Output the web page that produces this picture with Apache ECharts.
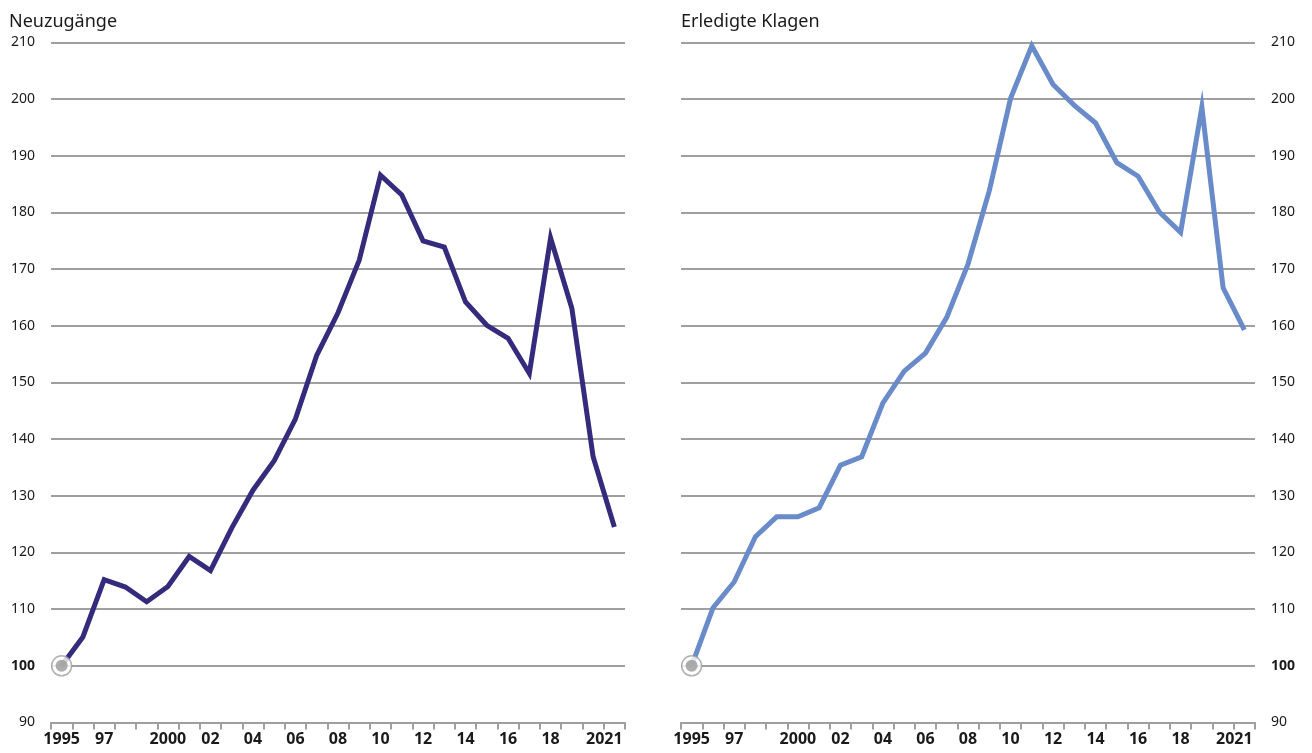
<!DOCTYPE html>
<html><head><meta charset="utf-8">
<script src="https://cdn.jsdelivr.net/npm/echarts@6/dist/echarts.min.js"></script>
<style>html,body{margin:0;padding:0;background:#fff}#c{width:1312px;height:753px}</style>
</head><body><div id="c"></div>
<script>
const years = [1995,1996,1997,1998,1999,2000,2001,2002,2003,2004,2005,2006,2007,2008,2009,2010,2011,2012,2013,2014,2015,2016,2017,2018,2019,2020,2021];
const neuzugaenge = [100,105.1,115.2,113.9,111.3,114.0,119.3,116.8,124.3,131.0,136.2,143.6,154.8,162.3,171.6,186.6,183.1,175.0,173.9,164.2,160.1,157.8,151.6,175.5,163.1,136.9,124.5];
const erledigteKlagen = [100,110.2,114.8,122.8,126.3,126.3,127.9,135.4,136.9,146.4,152.0,155.2,161.5,170.9,183.8,200.1,209.4,202.6,198.9,195.8,188.8,186.4,180.1,176.5,198.6,166.7,159.3];
const shownYears = [1995,1997,2000,2002,2004,2006,2008,2010,2012,2014,2016,2018,2021];
const fullYears = [1995,2000,2021];
const yMin = 90, yMax = 210, yStep = 10;
const titles = ['Neuzugänge','Erledigte Klagen'];
const colors = ['#342b7c','#6a8bc9'];

const gridCol = '#9f9f9f';
const font = 'Noto Sans';

function xAxis(gi){
  return {
    type:'category', gridIndex:gi, data:years.map(String), boundaryGap:true,
    axisLine:{show:true, lineStyle:{color:gridCol, width:2}},
    axisTick:{show:true, interval:0, length:7, lineStyle:{color:gridCol, width:2}},
    axisLabel:{
      interval:(i)=>shownYears.includes(years[i]),
      margin:9, color:'#1a1a1a', fontFamily:font, fontWeight:'bold', fontSize:16,
      formatter:(v)=>{const y=+v; const s = fullYears.includes(y)?String(y):String(y).slice(2);
        return y===years[years.length-1] ? '{last|'+s+'}' : s;},
      rich:{last:{padding:[0,20,0,0], fontFamily:font, fontWeight:'bold', fontSize:16, color:'#1a1a1a'}}
    },
    splitLine:{show:false}
  };
}
function yAxis(gi,pos){
  return {
    type:'value', gridIndex:gi, min:yMin, max:yMax, interval:yStep, position:pos,
    axisLine:{show:false}, axisTick:{show:false},
    splitLine:{show:true, lineStyle:{color:gridCol, width:2}},
    axisLabel:{
      margin:16, color:'#1a1a1a', fontFamily:font, fontSize:14,
      formatter:(v)=> v===100 ? '{b|100}' : String(v),
      rich:{b:{fontWeight:'bold', fontFamily:font, fontSize:14, color:'#1a1a1a'}}
    }
  };
}
function lineSeries(gi,data,color){
  return {type:'line', xAxisIndex:gi, yAxisIndex:gi, data:data, showSymbol:false, symbol:'none',
    lineStyle:{color:color, width:5, join:'miter', cap:'butt'}, z:2, animation:false};
}
function markerSeries(gi,data){
  return [
    {type:'scatter', xAxisIndex:gi, yAxisIndex:gi, data:[[0,data[0]]], symbol:'circle', symbolSize:20,
      itemStyle:{color:'#ffffff', borderColor:gridCol, borderWidth:1.5}, z:3, animation:false, silent:true},
    {type:'scatter', xAxisIndex:gi, yAxisIndex:gi, data:[[0,data[0]]], symbol:'circle', symbolSize:12,
      itemStyle:{color:'#999999'}, z:4, animation:false, silent:true}
  ];
}

const chart = echarts.init(document.getElementById('c'), null, {renderer:'canvas'});
chart.setOption({
  backgroundColor:'#ffffff',
  animation:false,
  title:[
    {text:titles[0], left:4, top:8, textStyle:{fontFamily:font, fontWeight:'normal', fontSize:18, color:'#1a1a1a'}},
    {text:titles[1], left:676, top:8, textStyle:{fontFamily:font, fontWeight:'normal', fontSize:18, color:'#1a1a1a'}}
  ],
  grid:[
    {left:51, right:687, top:42.5, bottom:30.5, containLabel:false},
    {left:681, right:57, top:42.5, bottom:30.5, containLabel:false}
  ],
  xAxis:[xAxis(0), xAxis(1)],
  yAxis:[yAxis(0,'left'), yAxis(1,'right')],
  series:[
    lineSeries(0,neuzugaenge,colors[0]),
    lineSeries(1,erledigteKlagen,colors[1]),
    ...markerSeries(0,neuzugaenge),
    ...markerSeries(1,erledigteKlagen)
  ]
});
</script></body></html>
